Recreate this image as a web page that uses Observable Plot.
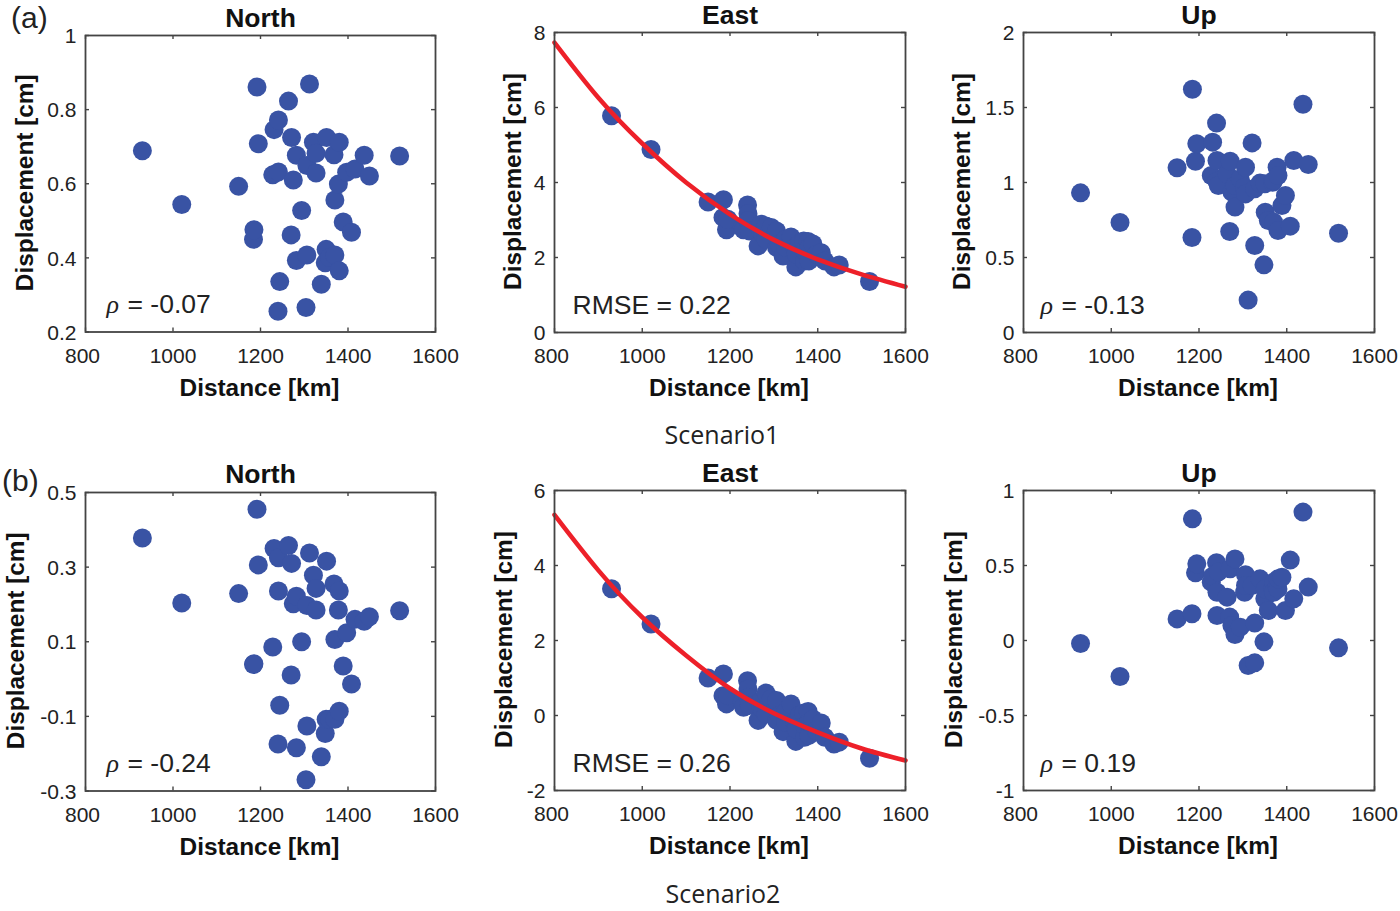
<!DOCTYPE html>
<html>
<head>
<meta charset="utf-8">
<script src="https://cdn.jsdelivr.net/npm/d3@7"></script>
<script src="https://cdn.jsdelivr.net/npm/@observablehq/plot@0.6"></script>
<style>
html,body{margin:0;padding:0;background:#fff;}
#root{position:relative;width:1400px;height:911px;overflow:hidden;font-family:"Liberation Sans",sans-serif;color:#222;}
#root svg{position:absolute;overflow:visible;background:transparent;}
.cap{position:absolute;transform:translate(-50%,-50%);font-family:"Open Sans",sans-serif;font-size:25px;white-space:nowrap;color:#222;}
.tag{position:absolute;transform:translateY(-50%);font-family:"Liberation Sans",sans-serif;font-size:30px;color:#222;}
</style>
</head>
<body>
<div id="root"></div>
<script>
const distance = [930,1020,1150,1184,1185,1192,1195,1228,1231,1240,1241,1241,1244,1264,1270,1271,1275,1282,1282,1294,1304,1306,1306,1312,1321,1327,1327,1339,1348,1350,1351,1358,1368,1370,1370,1378,1380,1380,1389,1397,1408,1416,1437,1449,1518];

const northS1 = [0.689,0.544,0.593,0.450,0.476,0.861,0.708,0.624,0.746,0.256,0.772,0.632,0.336,0.823,0.462,0.725,0.610,0.677,0.393,0.528,0.266,0.649,0.408,0.869,0.712,0.629,0.682,0.329,0.387,0.423,0.725,0.401,0.678,0.556,0.408,0.599,0.712,0.365,0.497,0.631,0.469,0.640,0.677,0.621,0.675];
const eastS1 = [5.78,4.88,3.48,3.07,3.54,2.74,3.02,2.80,2.74,3.40,3.17,2.98,2.71,2.31,2.71,2.89,2.62,2.84,2.49,2.80,2.62,2.27,2.71,2.36,2.04,2.27,2.49,2.55,2.27,1.75,2.09,2.36,2.44,1.91,2.18,2.43,1.91,2.27,2.36,2.09,2.13,1.91,1.75,1.80,1.36];
const upS1 = [0.931,0.733,1.098,0.633,1.622,1.142,1.258,1.047,1.269,1.396,1.147,1.009,0.98,1.058,0.673,1.142,0.936,0.836,0.98,1.024,0.969,1.102,0.924,0.216,1.264,0.58,0.958,0.996,0.451,0.991,0.802,0.747,1.002,0.736,1.013,1.102,0.68,1.047,0.847,0.913,0.709,1.147,1.522,1.12,0.662];

const northS2 = [0.378,0.204,0.229,0.039,0.041,0.455,0.306,0.086,0.35,-0.174,0.236,0.325,-0.07,0.358,0.011,0.31,0.202,0.222,-0.184,0.10,-0.27,0.197,-0.126,0.338,0.278,0.243,0.185,-0.208,-0.146,-0.108,0.316,-0.108,0.255,0.106,-0.108,0.185,0.236,-0.086,0.035,0.124,-0.013,0.16,0.155,0.167,0.183];
const eastS2 = [3.38,2.44,1.0,0.53,1.11,0.31,0.53,0.36,0.22,0.93,0.71,0.49,0.27,-0.13,0.22,0.40,0.13,0.60,0.04,0.44,0.22,-0.13,0.40,0,-0.43,-0.18,0.09,0.31,-0.18,-0.69,-0.36,0,0.07,-0.58,-0.27,0.11,-0.53,-0.18,-0.09,-0.40,-0.20,-0.58,-0.76,-0.71,-1.14];
const upS2 = [-0.02,-0.24,0.144,0.178,0.811,0.451,0.511,0.389,0.429,0.518,0.167,0.322,0.456,0.289,0.156,0.478,0.10,0.544,0.04,0.089,0.322,0.438,0.367,-0.167,0.367,-0.149,0.116,0.411,-0.009,0.278,0.344,0.20,0.344,0.389,0.322,0.356,0.344,0.411,0.422,0.20,0.536,0.278,0.856,0.356,-0.049];

const fitDistance = [800,900,1000,1100,1200,1300,1400,1500,1600];
const fitS1 = [7.73,6.26,5.04,4.00,3.15,2.47,1.95,1.55,1.22];
const fitS2 = [5.35,3.87,2.62,1.60,0.72,0.06,-0.45,-0.88,-1.20];

const xTicks = [800,1000,1200,1400,1600];
const yTicksNorthS1 = [0.2,0.4,0.6,0.8,1];
const yTicksEastS1 = [0,2,4,6,8];
const yTicksUpS1 = [0,0.5,1,1.5,2];
const yTicksNorthS2 = [-0.3,-0.1,0.1,0.3,0.5];
const yTicksEastS2 = [-2,0,2,4,6];
const yTicksUpS2 = [-1,-0.5,0,0.5,1];

const titles = ["North","East","Up"];
const xLabel = "Distance [km]";
const yLabel = "Displacement [cm]";

const BLUE = "#3953a4", RED = "#ed2029", INK = "#222", AXIS = "#444";
const SANS = "Liberation Sans";

const panels = [
  {title:0, values:northS1, ticks:yTicksNorthS1, note:"= -0.07", rho:true,  noteX:0,  L:85,  R:435, T:35,   B:331.5, titleDy:-17, ylx:-60},
  {title:1, values:eastS1,  ticks:yTicksEastS1,  note:"RMSE = 0.22", fit:fitS1,       L:554, R:905, T:32,   B:332,   titleDy:-17, ylx:-41},
  {title:2, values:upS1,    ticks:yTicksUpS1,    note:"= -0.13", rho:true,  noteX:-4, L:1023,R:1374,T:32,   B:332,   titleDy:-17, ylx:-61},
  {title:0, values:northS2, ticks:yTicksNorthS2, note:"= -0.24", rho:true,  noteX:0,  L:85,  R:435, T:491.5,B:790,   titleDy:-18, ylx:-69},
  {title:1, values:eastS2,  ticks:yTicksEastS2,  note:"RMSE = 0.26", fit:fitS2,       L:554, R:905, T:490,  B:790,   titleDy:-17, ylx:-50},
  {title:2, values:upS2,    ticks:yTicksUpS2,    note:"= 0.19", rho:true,   noteX:-4, L:1023,R:1374,T:490,  B:790,   titleDy:-17, ylx:-69}
];

const root = document.getElementById("root");
const ML = 85, MR = 26, MT = 32, MB = 75, TICK = 4;

for (const p of panels) {
  const H = p.B - p.T, W = p.R - p.L;
  const rows = distance.map((d,i)=>({d, v:p.values[i]}));
  const marks = [
    Plot.dot(rows,{x:"d",y:"v",r:9.5,fill:BLUE,stroke:"none"})
  ];
  if (p.fit) {
    const fit = fitDistance.map((d,i)=>({d, v:p.fit[i]}));
    marks.push(Plot.line(fit,{x:"d",y:"v",stroke:RED,strokeWidth:4.5,curve:"natural"}));
  }
  const xLabelOpts = {anchor:"bottom",tickSize:0,tickPadding:16,label:null,fontSize:21,fontFamily:SANS,fill:INK,tickFormat:d=>String(d)};
  const tickStyle = {stroke:AXIS,strokeWidth:1.4};
  marks.push(
    Plot.axisX({...xLabelOpts,ticks:xTicks.slice(0,1),dx:-3}),
    Plot.axisX({...xLabelOpts,ticks:xTicks.slice(1)}),
    Plot.axisY({ticks:p.ticks,anchor:"left",tickSize:0,tickPadding:9,dy:1,label:null,fontSize:21,fontFamily:SANS,fill:INK,tickFormat:d=>String(d)}),
    Plot.ruleX(xTicks,{insetTop:H-TICK,...tickStyle}),
    Plot.ruleX(xTicks,{insetBottom:H-TICK,...tickStyle}),
    Plot.ruleY(p.ticks,{insetRight:W-TICK,...tickStyle}),
    Plot.ruleY(p.ticks,{insetLeft:W-TICK,...tickStyle}),
    Plot.frame({stroke:AXIS,strokeWidth:1.8}),
    Plot.text([titles[p.title]],{frameAnchor:"top",dy:p.titleDy,lineAnchor:"middle",text:d=>d,fontSize:26.5,fontWeight:"bold",fontFamily:SANS,fill:"#111"}),
    Plot.text([xLabel],{frameAnchor:"bottom",dy:56,dx:-1,lineAnchor:"middle",text:d=>d,fontSize:24.4,fontWeight:"bold",fontFamily:SANS,fill:"#111"}),
    Plot.text([yLabel],{frameAnchor:"left",dx:p.ylx,dy:-1,rotate:-90,textAnchor:"middle",lineAnchor:"middle",text:d=>d,fontSize:24.4,fontWeight:"bold",fontFamily:SANS,fill:"#111"})
  );
  if (p.rho) {
    marks.push(
      Plot.text(["ρ"],{frameAnchor:"bottom-left",dx:21+p.noteX,dy:-27,lineAnchor:"middle",text:d=>d,textAnchor:"start",fontSize:26,fontStyle:"italic",fontFamily:"Liberation Serif",fill:INK}),
      Plot.text([p.note],{frameAnchor:"bottom-left",dx:42+p.noteX,dy:-27,lineAnchor:"middle",text:d=>d,textAnchor:"start",fontSize:26.5,fontFamily:SANS,fill:INK})
    );
  } else {
    marks.push(
      Plot.text([p.note],{frameAnchor:"bottom-left",dx:18,dy:-27,lineAnchor:"middle",text:d=>d,textAnchor:"start",fontSize:26.5,fontFamily:SANS,fill:INK})
    );
  }
  const svg = Plot.plot({
    width:W+ML+MR,
    height:H+MT+MB,
    marginLeft:ML,marginRight:MR,marginTop:MT,marginBottom:MB,
    style:{background:"transparent",overflow:"visible"},
    x:{domain:[800,1600]},
    y:{domain:d3.extent(p.ticks)},
    marks
  });
  svg.style.left = (p.L-ML)+"px";
  svg.style.top = (p.T-MT)+"px";
  root.appendChild(svg);
}

const addText = (cls,text,left,top)=>{
  const el=document.createElement("div");
  el.className=cls;el.textContent=text;el.style.left=left+"px";el.style.top=top+"px";
  root.appendChild(el);
};
addText("tag","(a)",11,18);
addText("tag","(b)",2,481);
addText("cap","Scenario1",722,434);
addText("cap","Scenario2",723,893);
</script>
</body>
</html>
